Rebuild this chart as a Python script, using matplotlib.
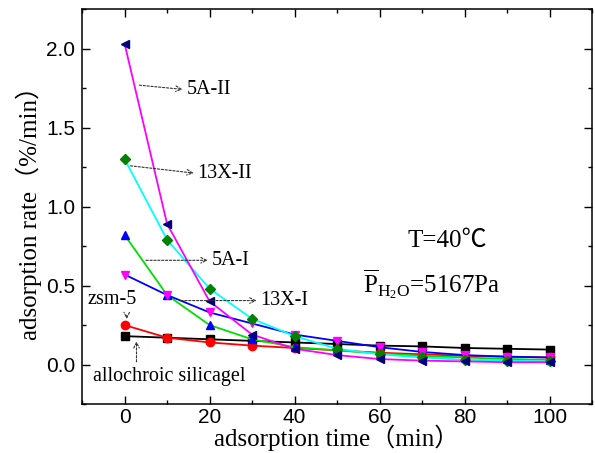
import matplotlib
matplotlib.use('Agg')
import matplotlib.pyplot as plt
from matplotlib.ticker import MultipleLocator

plt.rcParams['mathtext.fontset'] = 'custom'
plt.rcParams['mathtext.rm'] = 'Liberation Serif'

serif = ['Liberation Serif', 'Noto Sans CJK SC']

# adsorption rate (%/min) vs time (min)
time = [0, 10, 20, 30, 40, 50, 60, 70, 80, 90, 100]
silicagel = [0.18, 0.17, 0.16, 0.15, 0.14, 0.13, 0.12, 0.115, 0.105, 0.10, 0.095]
zsm5 = [0.25, 0.17, 0.14, 0.12, 0.105, 0.09, 0.075, 0.065, 0.055, 0.05, 0.045]
a5_1 = [0.82, 0.44, 0.25, 0.16, 0.11, 0.09, 0.07, 0.055, 0.045, 0.035, 0.03]
x13_1 = [0.57, 0.44, 0.33, 0.26, 0.19, 0.15, 0.11, 0.08, 0.06, 0.05, 0.045]
x13_2 = [1.30, 0.79, 0.48, 0.29, 0.18, 0.10, 0.065, 0.045, 0.03, 0.025, 0.02]
a5_2 = [2.03, 0.89, 0.40, 0.19, 0.10, 0.06, 0.035, 0.025, 0.02, 0.015, 0.015]

fig = plt.figure(figsize=(5.95, 4.53), dpi=100)
ax = fig.add_axes([0.138, 0.108, 0.857, 0.872])

# (values, line colour, marker, marker colour)
series = [
    (silicagel, 'black', 's', 'black'),
    (zsm5, 'red', 'o', 'red'),
    (a5_1, '#00e000', '^', 'blue'),
    (x13_1, 'blue', 'v', 'magenta'),
    (x13_2, 'cyan', 'D', 'green'),
    (a5_2, 'magenta', '<', 'navy'),
]
for vals, lc, mk, mc in series:
    ax.plot(time, vals, color=lc, lw=1.3, marker=mk, ms=6 if mk != 'D' else 5,
            mfc=mc, mec=mc)

ax.set_xlim(-10, 110)
ax.set_ylim(-0.25, 2.25)
ax.xaxis.set_major_locator(MultipleLocator(20))
ax.xaxis.set_minor_locator(MultipleLocator(10))
ax.yaxis.set_major_locator(MultipleLocator(0.5))
ax.yaxis.set_minor_locator(MultipleLocator(0.25))
ax.tick_params(which='both', direction='in', top=True, right=True, width=1)
ax.tick_params(which='major', length=6, pad=5)
ax.tick_params(axis='x', which='major', pad=3)
ax.tick_params(which='minor', length=3)
for lab in ax.get_xticklabels() + ax.get_yticklabels():
    lab.set_family('Liberation Sans')
    lab.set_fontsize(15)
for s in ax.spines.values():
    s.set_linewidth(1.1)

ax.set_xlabel('adsorption time（min）', family=serif, fontsize=18, labelpad=-2)
ax.set_ylabel('adsorption rate（%/min）', family=serif, fontsize=18, labelpad=3)

arrow = dict(arrowstyle='->', linestyle=(0, (2, 1.5)), lw=0.8, color='#333333')
notes = [
    ('5A-II', (2.8, 1.77), (14.6, 1.74)),
    ('13X-II', (0.7, 1.26), (17.2, 1.21)),
    ('5A-I', (4.4, 0.66), (20.5, 0.66)),
    ('13X-I', (12.6, 0.405), (32.0, 0.405)),
]
for txt, start, end in notes:
    ax.annotate('', xy=(end[0] - 0.3, end[1]), xytext=start, arrowprops=arrow)
    ax.text(end[0], end[1], txt, family=serif, fontsize=14.5, va='center', ha='left')

ax.annotate('', xy=(0.5, 0.27), xytext=(0.5, 0.33), arrowprops=arrow)
ax.text(-8.8, 0.41, 'zsm-5', family=serif, fontsize=14.5, va='center', ha='left')
ax.annotate('', xy=(2.8, 0.165), xytext=(2.8, 0.0), arrowprops=arrow)
ax.text(-7.5, -0.075, 'allochroic silicagel', family=serif, fontsize=14.5,
        va='center', ha='left')

ax.text(76, 0.78, 'T=40℃', family=serif, fontsize=18, ha='center', va='center')
ax.text(56.0, 0.51, r'$\overline{\mathrm{P}}_{\mathrm{H_2O}}$=5167Pa', family=serif,
        fontsize=18, ha='left', va='center')

fig.savefig('out.png', dpi=100)
